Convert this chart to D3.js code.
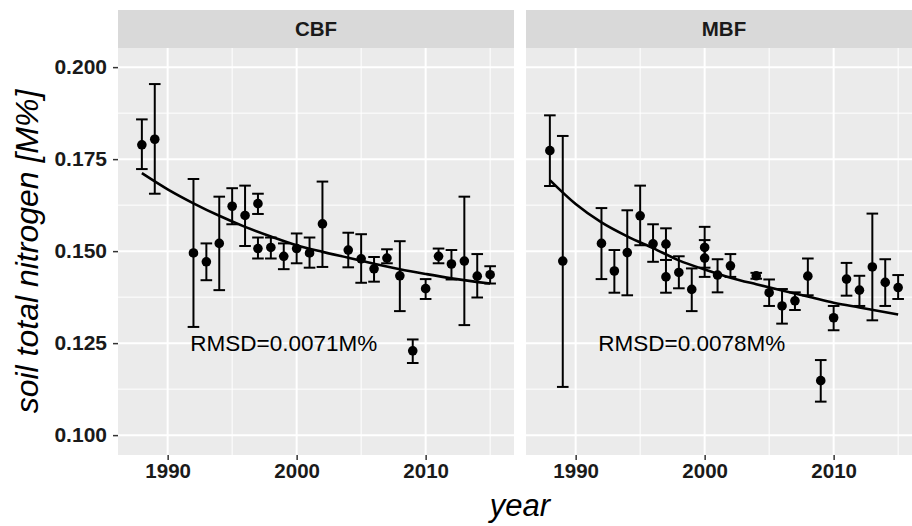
<!DOCTYPE html>
<html>
<head>
<meta charset="utf-8">
<script src="https://cdn.jsdelivr.net/npm/d3@7"></script>
<style>
    body { margin: 0; background: #fff; }
    text { font-family: "Liberation Sans", Arial, sans-serif; }
</style>
</head>
<body>
<div id="chart"></div>
<script>
const width = 912
const height = 526

// --- Data ---
const panels = ["CBF", "MBF"]

const cbfYears = [1988, 1989, 1992, 1993, 1994, 1995, 1996, 1997, 1997, 1998, 1999, 2000, 2001, 2002, 2004, 2005, 2006, 2007, 2008, 2009, 2010, 2011, 2012, 2013, 2014, 2015]
const cbfMean = [0.1789, 0.1804, 0.1495, 0.1471, 0.1521, 0.1622, 0.1597, 0.1629, 0.1507, 0.151, 0.1486, 0.1507, 0.1495, 0.1574, 0.1503, 0.1479, 0.1452, 0.1481, 0.1433, 0.1229, 0.1398, 0.1486, 0.1465, 0.1473, 0.1432, 0.1436]
const cbfLow = [0.1723, 0.1656, 0.1294, 0.1421, 0.1394, 0.1573, 0.1514, 0.1601, 0.148, 0.148, 0.1451, 0.1467, 0.1455, 0.1457, 0.1456, 0.1414, 0.1417, 0.1467, 0.1337, 0.1196, 0.137, 0.1467, 0.1423, 0.1299, 0.1374, 0.1412]
const cbfHigh = [0.1858, 0.1954, 0.1696, 0.1521, 0.1648, 0.1671, 0.1678, 0.1656, 0.1537, 0.1537, 0.1521, 0.1548, 0.1537, 0.1689, 0.155, 0.1546, 0.1484, 0.1505, 0.1527, 0.126, 0.1424, 0.1507, 0.1503, 0.1648, 0.1492, 0.1459]

const mbfYears = [1988, 1989, 1992, 1993, 1994, 1995, 1996, 1997, 1997, 1998, 1999, 2000, 2000, 2001, 2002, 2004, 2005, 2006, 2007, 2008, 2009, 2010, 2011, 2012, 2013, 2014, 2015]
const mbfMean = [0.1773, 0.1473, 0.1521, 0.1446, 0.1496, 0.1596, 0.152, 0.1519, 0.143, 0.1442, 0.1396, 0.151, 0.1481, 0.1435, 0.146, 0.1433, 0.1387, 0.1351, 0.1365, 0.1432, 0.1148, 0.1319, 0.1424, 0.1394, 0.1457, 0.1415, 0.1401]
const mbfLow = [0.1677, 0.1131, 0.1424, 0.1387, 0.138, 0.1516, 0.1471, 0.1476, 0.1387, 0.1399, 0.1337, 0.1455, 0.143, 0.1388, 0.143, 0.1425, 0.1351, 0.1303, 0.134, 0.138, 0.1091, 0.1285, 0.1379, 0.1351, 0.1312, 0.1351, 0.137]
const mbfHigh = [0.1869, 0.1813, 0.1617, 0.1503, 0.1611, 0.1678, 0.1573, 0.1562, 0.1476, 0.1486, 0.1453, 0.1566, 0.153, 0.1478, 0.1492, 0.1441, 0.1423, 0.1397, 0.1388, 0.148, 0.1204, 0.1351, 0.1468, 0.1433, 0.1602, 0.1478, 0.1435]

const fitYears = [1988, 1990, 1992, 1994, 1996, 1998, 2000, 2002, 2004, 2006, 2008, 2010, 2012, 2015]
const cbfFit = [0.1712, 0.1668, 0.163, 0.1596, 0.1566, 0.154, 0.1516, 0.1498, 0.1482, 0.1466, 0.1451, 0.1438, 0.1426, 0.1412]
const mbfFit = [0.1693, 0.1628, 0.1578, 0.154, 0.1508, 0.1475, 0.145, 0.1428, 0.141, 0.1393, 0.1377, 0.136, 0.1347, 0.1328]

const rmsdLabels = ["RMSD=0.0071M%", "RMSD=0.0078M%"]
const rmsdAt = { year: 1999, value: 0.125 }

const xMajor = [1990, 2000, 2010]
const xMinor = [1995, 2005, 2015]
const yMajor = [0.1, 0.125, 0.15, 0.175, 0.2]
const yMinor = [0.1125, 0.1375, 0.1625, 0.1875]

const buildRows = (years, mean, low, high) => years.map((year, i) => ({ year, mean: mean[i], low: low[i], high: high[i] }))

const panelData = [
    { name: panels[0], rows: buildRows(cbfYears, cbfMean, cbfLow, cbfHigh), fit: fitYears.map((year, i) => ({ year, value: cbfFit[i] })), rmsd: rmsdLabels[0] },
    { name: panels[1], rows: buildRows(mbfYears, mbfMean, mbfLow, mbfHigh), fit: fitYears.map((year, i) => ({ year, value: mbfFit[i] })), rmsd: rmsdLabels[1] },
]

// --- Layout ---
const panelW = 396
const panelLefts = [118, 526]
const stripTop = 10
const panelTop = 48
const panelBottom = 455
const capHalf = 0.45

const x = d3.scaleLinear().domain([1986.15, 2016.85]).range([0, panelW])
const y = d3.scaleLinear().domain([0.0946, 0.2052]).range([panelBottom, panelTop])

const svg = d3.select("#chart").append("svg").attr("width", width).attr("height", height).attr("viewBox", `0 0 ${width} ${height}`)

const lineGen = d3
    .line()
    .x((d) => x(d.year))
    .y((d) => y(d.value))
    .curve(d3.curveMonotoneX)

panelData.forEach((panel, pi) => {
    const g = svg.append("g").attr("transform", `translate(${panelLefts[pi]},0)`)

    // strip
    g.append("rect").attr("x", 0).attr("y", stripTop).attr("width", panelW).attr("height", panelTop - stripTop).attr("fill", "#d9d9d9")
    g.append("text")
        .attr("x", panelW / 2)
        .attr("y", (stripTop + panelTop) / 2)
        .attr("dy", "0.36em")
        .attr("text-anchor", "middle")
        .attr("font-size", 20.5)
        .attr("font-weight", "bold")
        .attr("fill", "#1a1a1a")
        .text(panel.name)

    // panel background + grid
    g.append("rect").attr("x", 0).attr("y", panelTop).attr("width", panelW).attr("height", panelBottom - panelTop).attr("fill", "#ebebeb")

    g.selectAll(".yminor").data(yMinor).enter().append("line")
        .attr("x1", 0).attr("x2", panelW).attr("y1", (d) => y(d)).attr("y2", (d) => y(d))
        .attr("stroke", "#fff").attr("stroke-width", 1)
    g.selectAll(".xminor").data(xMinor).enter().append("line")
        .attr("x1", (d) => x(d)).attr("x2", (d) => x(d)).attr("y1", panelTop).attr("y2", panelBottom)
        .attr("stroke", "#fff").attr("stroke-width", 1)
    g.selectAll(".ymajor").data(yMajor).enter().append("line")
        .attr("x1", 0).attr("x2", panelW).attr("y1", (d) => y(d)).attr("y2", (d) => y(d))
        .attr("stroke", "#fff").attr("stroke-width", 2)
    g.selectAll(".xmajor").data(xMajor).enter().append("line")
        .attr("x1", (d) => x(d)).attr("x2", (d) => x(d)).attr("y1", panelTop).attr("y2", panelBottom)
        .attr("stroke", "#fff").attr("stroke-width", 2)

    // x axis ticks and labels
    const xAxis = g.append("g").attr("transform", `translate(0,${panelBottom})`)
        .call(d3.axisBottom(x).tickValues(xMajor).tickFormat(d3.format("d")).tickSize(5).tickPadding(3))
    xAxis.select(".domain").remove()
    xAxis.selectAll("line").attr("stroke", "#333").attr("stroke-width", 1.5)
    xAxis.selectAll("text").attr("font-size", 20.5).attr("font-weight", "bold").attr("fill", "#1a1a1a").attr("font-family", "Liberation Sans, Arial, sans-serif")

    // error bars
    const bars = g.selectAll(".bar").data(panel.rows).enter().append("g").attr("fill", "none").attr("stroke", "#000").attr("stroke-width", 2)
    bars.append("line").attr("x1", (d) => x(d.year)).attr("x2", (d) => x(d.year)).attr("y1", (d) => y(d.low)).attr("y2", (d) => y(d.high))
    bars.append("line").attr("x1", (d) => x(d.year - capHalf)).attr("x2", (d) => x(d.year + capHalf)).attr("y1", (d) => y(d.low)).attr("y2", (d) => y(d.low))
    bars.append("line").attr("x1", (d) => x(d.year - capHalf)).attr("x2", (d) => x(d.year + capHalf)).attr("y1", (d) => y(d.high)).attr("y2", (d) => y(d.high))

    // fitted curve
    g.append("path").datum(panel.fit).attr("d", lineGen).attr("fill", "none").attr("stroke", "#000").attr("stroke-width", 2.6)

    // points
    g.selectAll(".pt").data(panel.rows).enter().append("circle")
        .attr("cx", (d) => x(d.year)).attr("cy", (d) => y(d.mean)).attr("r", 4.8).attr("fill", "#000")

    // RMSD label
    g.append("text")
        .attr("x", x(rmsdAt.year))
        .attr("y", y(rmsdAt.value))
        .attr("dy", "0.36em")
        .attr("text-anchor", "middle")
        .attr("font-size", 22.5)
        .attr("fill", "#000")
        .text(panel.rmsd)
})

// y axis on left panel
const yAxis = svg.append("g").attr("transform", `translate(${panelLefts[0]},0)`)
    .call(d3.axisLeft(y).tickValues(yMajor).tickFormat(d3.format(".3f")).tickSize(5).tickPadding(6))
yAxis.select(".domain").remove()
yAxis.selectAll("line").attr("stroke", "#333").attr("stroke-width", 1.5)
yAxis.selectAll("text").attr("font-size", 21).attr("font-weight", "bold").attr("fill", "#1a1a1a").attr("font-family", "Liberation Sans, Arial, sans-serif")

// axis titles
svg.append("text")
    .attr("transform", `translate(38,${(panelTop + panelBottom) / 2}) rotate(-90)`)
    .attr("text-anchor", "middle")
    .attr("font-size", 32)
    .attr("font-style", "italic")
    .attr("fill", "#000")
    .text("soil total nitrogen [M%]")

svg.append("text")
    .attr("x", 520)
    .attr("y", 516)
    .attr("text-anchor", "middle")
    .attr("font-size", 31)
    .attr("font-style", "italic")
    .attr("fill", "#000")
    .text("year")
</script>
</body>
</html>
